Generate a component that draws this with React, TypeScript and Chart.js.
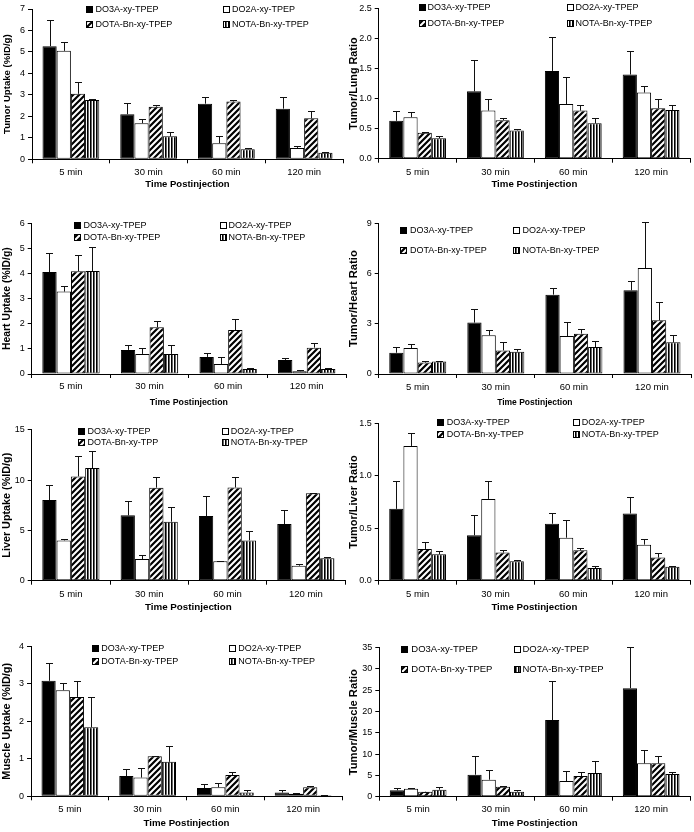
import React, { useEffect, useRef } from "react";
import { Chart, registerables } from "chart.js";

Chart.register(...registerables);

const FONT = "'Liberation Sans', Arial, Helvetica, sans-serif";

// ---------- DATA ----------
const categories = ["5 min", "30 min", "60 min", "120 min"];
const seriesNames = ["DO3A-xy-TPEP", "DO2A-xy-TPEP", "DOTA-Bn-xy-TPEP", "NOTA-Bn-xy-TPEP"];
const liverSeriesNames = ["DO3A-xy-TPEP", "DO2A-xy-TPEP", "DOTA-Bn-xy-TPP", "NOTA-Bn-xy-TPEP"];

// rows: DO3A, DO2A, DOTA-Bn, NOTA-Bn ; columns: 5, 30, 60, 120 min
const tumorUptake = [
  [5.27, 2.1, 2.59, 2.36],
  [5.05, 1.68, 0.75, 0.53],
  [3.05, 2.45, 2.69, 1.91],
  [2.76, 1.07, 0.47, 0.3],
];
const tumorUptakeErr = [
  [1.22, 0.5, 0.3, 0.56],
  [0.42, 0.2, 0.34, 0.09],
  [0.53, 0.1, 0.06, 0.34],
  [0.04, 0.22, 0.04, 0.04],
];

const tumorLung = [
  [0.63, 1.12, 1.46, 1.4],
  [0.69, 0.8, 0.91, 1.1],
  [0.43, 0.64, 0.8, 0.84],
  [0.34, 0.47, 0.59, 0.81],
];
const tumorLungErr = [
  [0.17, 0.53, 0.57, 0.39],
  [0.08, 0.2, 0.45, 0.11],
  [0.01, 0.04, 0.1, 0.15],
  [0.04, 0.03, 0.08, 0.08],
];

const heartUptake = [
  [4.06, 0.96, 0.68, 0.56],
  [3.28, 0.8, 0.4, 0.11],
  [4.09, 1.86, 1.75, 1.05],
  [4.1, 0.8, 0.2, 0.2],
];
const heartUptakeErr = [
  [0.75, 0.2, 0.14, 0.09],
  [0.23, 0.24, 0.28, 0.04],
  [0.64, 0.24, 0.44, 0.17],
  [0.97, 0.34, 0.02, 0.02],
];

const tumorHeart = [
  [1.27, 3.07, 4.74, 5.0],
  [1.55, 2.31, 2.27, 6.33],
  [0.68, 1.41, 2.41, 3.21],
  [0.74, 1.33, 1.61, 1.89],
];
const tumorHeartErr = [
  [0.34, 0.81, 0.42, 0.56],
  [0.24, 0.3, 0.86, 2.73],
  [0.12, 0.48, 0.28, 1.11],
  [0.06, 0.18, 0.34, 0.44],
];

const liverUptake = [
  [8.01, 6.49, 6.42, 5.63],
  [4.0, 2.15, 1.92, 1.49],
  [10.36, 9.24, 9.26, 8.68],
  [11.19, 5.86, 4.0, 2.22],
];
const liverUptakeErr = [
  [1.49, 1.42, 1.99, 1.36],
  [0.1, 0.37, 0.03, 0.17],
  [2.02, 1.02, 1.0, 0.06],
  [1.66, 1.42, 0.93, 0.16],
];

const tumorLiver = [
  [0.685, 0.433, 0.543, 0.641],
  [1.285, 0.78, 0.41, 0.344],
  [0.303, 0.268, 0.29, 0.221],
  [0.253, 0.186, 0.12, 0.133],
];
const tumorLiverErr = [
  [0.269, 0.189, 0.098, 0.159],
  [0.12, 0.167, 0.17, 0.056],
  [0.07, 0.026, 0.02, 0.041],
  [0.031, 0.007, 0.022, 0.007],
];

const muscleUptake = [
  [3.08, 0.54, 0.22, 0.1],
  [2.83, 0.5, 0.24, 0.07],
  [2.65, 1.07, 0.57, 0.24],
  [1.84, 0.92, 0.1, 0.03],
];
const muscleUptakeErr = [
  [0.48, 0.19, 0.11, 0.06],
  [0.2, 0.26, 0.12, 0.03],
  [0.43, 0.01, 0.08, 0.03],
  [0.82, 0.41, 0.06, 0.01],
];

const tumorMuscle = [
  [1.49, 5.17, 18.0, 25.5],
  [1.88, 3.99, 3.68, 7.83],
  [1.17, 2.35, 4.86, 7.83],
  [1.64, 1.17, 5.56, 5.33],
];
const tumorMuscleErr = [
  [0.6, 4.38, 9.1, 9.7],
  [0.22, 2.2, 2.27, 3.13],
  [0.05, 0.05, 0.86, 1.65],
  [0.63, 0.4, 2.82, 0.39],
];

// ---------- PANEL DEFINITIONS ----------
type PanelData = {
  yTitle: string;
  names: string[];
  values: number[][];
  errors: number[][];
  max: number;
  step: number;
  decimals: number;
};

const panelData: PanelData[] = [
  { yTitle: "Tumor Uptake (%ID/g)", names: seriesNames, values: tumorUptake, errors: tumorUptakeErr, max: 7, step: 1, decimals: 0 },
  { yTitle: "Tumor/Lung Ratio", names: seriesNames, values: tumorLung, errors: tumorLungErr, max: 2.5, step: 0.5, decimals: 1 },
  { yTitle: "Heart Uptake (%ID/g)", names: seriesNames, values: heartUptake, errors: heartUptakeErr, max: 6, step: 1, decimals: 0 },
  { yTitle: "Tumor/Heart Ratio", names: seriesNames, values: tumorHeart, errors: tumorHeartErr, max: 9, step: 3, decimals: 0 },
  { yTitle: "Liver Uptake (%ID/g)", names: liverSeriesNames, values: liverUptake, errors: liverUptakeErr, max: 15, step: 5, decimals: 0 },
  { yTitle: "Tumor/Liver Ratio", names: seriesNames, values: tumorLiver, errors: tumorLiverErr, max: 1.5, step: 0.5, decimals: 1 },
  { yTitle: "Muscle Uptake (%ID/g)", names: seriesNames, values: muscleUptake, errors: muscleUptakeErr, max: 4, step: 1, decimals: 0 },
  { yTitle: "Tumor/Muscle Ratio", names: seriesNames, values: tumorMuscle, errors: tumorMuscleErr, max: 35, step: 5, decimals: 0 },
];

type Layout = {
  left: number; top: number; width: number; height: number;
  area: { l: number; t: number; r: number; b: number };
  xLabelY: number; xTitleY: number; xTitleSize: number;
  yTitleSize: number; yTitleX: number;
  rows: number[]; markers: number[]; texts: number[]; legendSize: number;
};

const layouts: Layout[] = [
  { left: 0, top: 0, width: 347, height: 210, area: { l: 32, t: 9, r: 343, b: 159.3 }, xLabelY: 172.7, xTitleY: 184.3, xTitleSize: 9.5, yTitleSize: 9.6, yTitleX: 7.3, rows: [9, 24], markers: [86, 223], texts: [95.5, 232], legendSize: 9 },
  { left: 347, top: 0, width: 347, height: 210, area: { l: 31.7, t: 8.3, r: 343, b: 158.7 }, xLabelY: 172.3, xTitleY: 184.3, xTitleSize: 9.7, yTitleSize: 10.8, yTitleX: 7.3, rows: [7.3, 22.7], markers: [71.7, 220], texts: [80.5, 228.5], legendSize: 9 },
  { left: 0, top: 210, width: 347, height: 205, area: { l: 31.7, t: 13.3, r: 346, b: 164 }, xLabelY: 176.7, xTitleY: 192.3, xTitleSize: 8.8, yTitleSize: 10.4, yTitleX: 7.3, rows: [14.7, 26.7], markers: [74, 220], texts: [83.5, 228.5], legendSize: 9 },
  { left: 347, top: 210, width: 347, height: 205, area: { l: 31.7, t: 13.3, r: 344, b: 164 }, xLabelY: 177.7, xTitleY: 192.3, xTitleSize: 8.5, yTitleSize: 11.2, yTitleX: 7.3, rows: [20, 40], markers: [53.3, 166], texts: [63, 175.5], legendSize: 9 },
  { left: 0, top: 415, width: 347, height: 207, area: { l: 31.7, t: 14.7, r: 345, b: 165.7 }, xLabelY: 179.3, xTitleY: 192.3, xTitleSize: 9.8, yTitleSize: 10.8, yTitleX: 7.3, rows: [16, 26.7], markers: [77.7, 221.7], texts: [87.5, 230.8], legendSize: 9 },
  { left: 347, top: 415, width: 347, height: 207, area: { l: 31.7, t: 7.3, r: 343, b: 165.7 }, xLabelY: 179.3, xTitleY: 192.3, xTitleSize: 9.7, yTitleSize: 11, yTitleX: 7.3, rows: [7.3, 19], markers: [90, 225.7], texts: [99.8, 234.8], legendSize: 9 },
  { left: 0, top: 622, width: 347, height: 210, area: { l: 31, t: 24.3, r: 342, b: 174.3 }, xLabelY: 187.7, xTitleY: 201.7, xTitleSize: 9.7, yTitleSize: 10.9, yTitleX: 7.3, rows: [26, 39.3], markers: [91.7, 229.3], texts: [101.3, 238.2], legendSize: 9 },
  { left: 347, top: 622, width: 347, height: 210, area: { l: 32.3, t: 25.7, r: 343, b: 174.7 }, xLabelY: 187.7, xTitleY: 201.7, xTitleSize: 9.7, yTitleSize: 11.2, yTitleX: 7.3, rows: [26.7, 46.7], markers: [54.3, 166.7], texts: [64.3, 175.5], legendSize: 9.5 },
];

// ---------- PATTERNS ----------
function makeFills(): any[] {
  const d = document.createElement("canvas");
  d.width = 6; d.height = 6;
  const c = d.getContext("2d")!;
  c.fillStyle = "#fff"; c.fillRect(0, 0, 6, 6);
  c.strokeStyle = "#000"; c.lineWidth = 2.2;
  c.beginPath();
  c.moveTo(-1, 7); c.lineTo(7, -1);
  c.moveTo(-4, 4); c.lineTo(4, -4);
  c.moveTo(2, 10); c.lineTo(10, 2);
  c.stroke();

  const v = document.createElement("canvas");
  v.width = 3; v.height = 2;
  const cv = v.getContext("2d")!;
  cv.fillStyle = "#fff"; cv.fillRect(0, 0, 3, 2);
  cv.fillStyle = "#000"; cv.fillRect(0, 0, 1, 2);
  cv.fillStyle = "#666"; cv.fillRect(1, 0, 1, 2);

  const tmp = document.createElement("canvas").getContext("2d")!;
  const diag = tmp.createPattern(d, "repeat");
  const vert = tmp.createPattern(v, "repeat");
  return ["#000000", "#ffffff", diag, vert];
}

function errorBarPlugin(errors: number[][]) {
  return {
    id: "errorBars",
    afterDatasetsDraw(chart: any) {
      const ctx = chart.ctx;
      const ys = chart.scales.y;
      ctx.save();
      ctx.strokeStyle = "#111";
      ctx.lineWidth = 1;
      chart.data.datasets.forEach((ds: any, i: number) => {
        const meta = chart.getDatasetMeta(i);
        meta.data.forEach((bar: any, j: number) => {
          const v = ds.data[j] as number;
          const e = errors[i][j];
          const x = Math.round(bar.x) + 0.5;
          const y0 = ys.getPixelForValue(v);
          const y1 = Math.round(ys.getPixelForValue(v + e)) + 0.5;
          ctx.beginPath();
          ctx.moveTo(x, y0);
          ctx.lineTo(x, y1);
          ctx.moveTo(x - 3.5, y1);
          ctx.lineTo(x + 3.5, y1);
          ctx.stroke();
        });
      });
      ctx.restore();
    },
  };
}

function legendPlugin(names: string[], lay: Layout, fills: any[]) {
  return {
    id: "boxLegend",
    afterDraw(chart: any) {
      const ctx = chart.ctx;
      ctx.save();
      ctx.font = `${lay.legendSize}px ${FONT}`;
      ctx.textBaseline = "middle";
      ctx.textAlign = "left";
      names.forEach((name, i) => {
        const col = i % 2;
        const row = Math.floor(i / 2);
        const mx = Math.round(lay.markers[col]);
        const y = lay.rows[row];
        const s = 6;
        const my = Math.round(y - s / 2);
        ctx.fillStyle = fills[i];
        ctx.fillRect(mx, my, s, s);
        ctx.strokeStyle = "#000";
        ctx.lineWidth = 1;
        ctx.strokeRect(mx + 0.5, my + 0.5, s, s);
        ctx.fillStyle = "#000";
        ctx.fillText(name, lay.texts[col], y + 0.5);
      });
      ctx.restore();
    },
  };
}

function buildChart(canvas: HTMLCanvasElement, pd: PanelData, lay: Layout, fills: any[]) {
  const xTickSize = 9.5;
  const xBottom = lay.xTitleY + lay.xTitleSize * 0.6;
  const xHeight = xBottom - lay.area.b;
  const tickPad = lay.xLabelY - lay.area.b - 4 - xTickSize * 0.6;
  return new Chart(canvas, {
    type: "bar",
    data: {
      labels: categories,
      datasets: pd.values.map((vals, i) => ({
        label: pd.names[i],
        data: vals,
        backgroundColor: fills[i],
        borderColor: "#000",
        borderWidth: 1,
        borderSkipped: false as any,
        categoryPercentage: 0.73,
        barPercentage: 1.0,
      })),
    },
    options: {
      responsive: false,
      maintainAspectRatio: false,
      animation: false,
      devicePixelRatio: 1,
      layout: {
        padding: {
          left: 0,
          top: lay.area.t,
          right: lay.width - lay.area.r,
          bottom: lay.height - xBottom,
        },
      },
      plugins: {
        legend: { display: false },
        tooltip: { enabled: false },
        title: { display: false },
      },
      scales: {
        x: {
          type: "category",
          offset: true,
          grid: { offset: true, drawOnChartArea: false, drawTicks: true, tickLength: 4, color: "#000", lineWidth: 1 },
          border: { display: true, color: "#000", width: 1 },
          ticks: { color: "#000", font: { family: FONT, size: xTickSize }, padding: tickPad, maxRotation: 0, autoSkip: false },
          title: {
            display: true,
            text: "Time Postinjection",
            color: "#000",
            font: { family: FONT, size: lay.xTitleSize, weight: "bold" },
            padding: { top: 0, bottom: 0 },
          },
          afterFit: (scale: any) => { scale.height = xHeight; },
        },
        y: {
          min: 0,
          max: pd.max,
          grid: { drawOnChartArea: false, drawTicks: true, tickLength: 4, color: "#000", lineWidth: 1 },
          border: { display: true, color: "#000", width: 1 },
          ticks: {
            stepSize: pd.step,
            autoSkip: false,
            color: "#000",
            padding: 3,
            font: { family: FONT, size: 9 },
            callback: (v: any) => Number(v).toFixed(pd.decimals),
          },
          title: {
            display: true,
            text: pd.yTitle,
            color: "#000",
            font: { family: FONT, size: lay.yTitleSize, weight: "bold" },
            padding: { top: Math.max(0, lay.yTitleX - lay.yTitleSize * 0.6), bottom: 0 },
          },
          afterFit: (scale: any) => { scale.width = lay.area.l; },
        },
      },
    } as any,
    plugins: [errorBarPlugin(pd.errors), legendPlugin(pd.names, lay, fills)],
  });
}

export default function App() {
  const refs = useRef<(HTMLCanvasElement | null)[]>([]);

  useEffect(() => {
    const fills = makeFills();
    const charts: Chart[] = [];
    panelData.forEach((pd, i) => {
      const cv = refs.current[i];
      if (cv) charts.push(buildChart(cv, pd, layouts[i], fills));
    });
    return () => charts.forEach((c) => c.destroy());
  }, []);

  return (
    <div style={{ position: "absolute", left: 0, top: 0, width: 694, height: 832, background: "#fff" }}>
      {layouts.map((lay, i) => (
        <canvas
          key={i}
          ref={(el) => { refs.current[i] = el; }}
          width={lay.width}
          height={lay.height}
          style={{ position: "absolute", left: lay.left, top: lay.top, width: lay.width, height: lay.height, display: "block" }}
        />
      ))}
    </div>
  );
}
